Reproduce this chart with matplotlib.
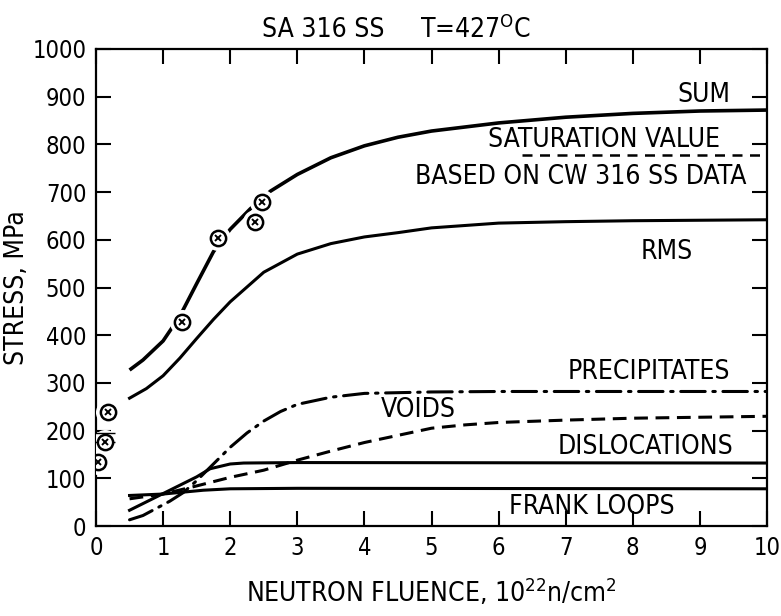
import matplotlib
matplotlib.use('Agg')
import matplotlib.pyplot as plt

plt.rcParams['font.family'] = ['DejaVu Sans']
plt.rcParams['font.stretch'] = 'condensed'
plt.rcParams['mathtext.fontset'] = 'custom'
plt.rcParams['mathtext.rm'] = 'DejaVu Sans:stretch=condensed'

fontsize = 19
fontsize_ticks = 17

# curves (fluence in 1e22 n/cm2, stress in MPa)
sum_x = [0.5, 0.7, 1.0, 1.25, 1.5, 1.75, 2.0, 2.3, 2.6, 3.0, 3.5, 4.0, 4.5, 5.0, 6.0, 7.0, 8.0, 9.0, 10.0]
sum_y = [327, 348, 388, 440, 508, 575, 622, 665, 702, 737, 772, 797, 815, 828, 845, 857, 865, 870, 872]

rms_x = [0.5, 0.75, 1.0, 1.25, 1.5, 1.75, 2.0, 2.5, 3.0, 3.5, 4.0, 4.5, 5.0, 6.0, 7.0, 8.0, 9.0, 10.0]
rms_y = [268, 288, 315, 352, 393, 433, 470, 532, 570, 592, 606, 615, 625, 635, 638, 640, 641, 642]

sat_x = [6.35, 10.0]
sat_y = [778, 778]

precip_x = [0.5, 0.7, 0.9, 1.1, 1.3, 1.5, 1.7, 2.0, 2.25, 2.5, 2.75, 3.0, 3.5, 4.0, 5.0, 6.0, 10.0]
precip_y = [13, 22, 37, 52, 70, 95, 123, 165, 195, 220, 240, 255, 270, 278, 281, 282, 282]

voids_x = [0.5, 1.0, 1.5, 2.0, 2.5, 3.0, 3.5, 4.0, 4.5, 5.0, 5.5, 6.0, 7.0, 8.0, 9.0, 10.0]
voids_y = [57, 67, 84, 102, 117, 138, 157, 175, 190, 205, 212, 217, 222, 226, 228, 230]

disl_x = [0.5, 1.0, 1.5, 1.7, 2.0, 2.2, 3.0, 10.0]
disl_y = [33, 68, 103, 120, 130, 132, 133, 132]

frank_x = [0.5, 1.0, 1.3, 1.6, 2.0, 3.0, 10.0]
frank_y = [64, 67, 71, 75, 78, 79, 78]

# measured points
pts_x = [0.03, 0.13, 0.18, 1.28, 1.82, 2.37, 2.47]
pts_y = [134, 176, 239, 428, 604, 637, 680]

labels = ['SUM', 'SATURATION VALUE', 'BASED ON CW 316 SS DATA', 'RMS',
          'PRECIPITATES', 'VOIDS', 'DISLOCATIONS', 'FRANK LOOPS']
label_x = [9.45, 9.3, 9.7, 8.9, 9.45, 4.8, 9.5, 8.63]
label_y = [903, 809, 732, 575, 323, 243, 166, 40]

fig = plt.figure(figsize=(7.81, 6.16), dpi=100)
ax = fig.add_axes([96 / 781, 90 / 616, 671 / 781, 477 / 616])

lw = 2.2
ax.plot(sum_x, sum_y, color='k', lw=2.6, solid_capstyle='butt')
ax.plot(rms_x, rms_y, color='k', lw=lw)
ax.plot(sat_x, sat_y, color='k', lw=1.8, linestyle=(0, (4, 3)))
ax.plot(precip_x, precip_y, color='k', lw=lw, linestyle=(0, (8, 2.5, 0.8, 2.5)),
        dash_capstyle='round')
ax.plot(voids_x, voids_y, color='k', lw=lw, linestyle=(0, (4.5, 2.5)))
ax.plot(disl_x, disl_y, color='k', lw=lw)
ax.plot(frank_x, frank_y, color='k', lw=lw)

# data points: white halo cuts the curve, then circle with cross
ax.plot(pts_x, pts_y, 'o', ms=17, color='white', zorder=4)
ax.errorbar(pts_x[1], pts_y[1], yerr=[[0], [20]], color='k', lw=1.2, capsize=7, zorder=5)
ax.plot(pts_x, pts_y, 'o', ms=11, mfc='white', mec='k', mew=1.8, zorder=6)
ax.plot(pts_x, pts_y, 'x', ms=5, color='k', mew=1.4, zorder=7)

for txt, tx, ty in zip(labels, label_x, label_y):
    ha = 'center' if txt == 'VOIDS' else 'right'
    ax.text(tx, ty, txt, fontsize=fontsize, ha=ha, va='center')

ax.text(0.338, 1.04, 'SA 316 SS', transform=ax.transAxes,
        fontsize=fontsize, ha='center', va='center')
ax.text(0.566, 1.04, 'T=427$^{\\mathrm{O}}$C', transform=ax.transAxes,
        fontsize=fontsize, ha='center', va='center')

ax.set_xlim(0, 10)
ax.set_ylim(0, 1000)
ax.set_xticks(range(0, 11))
ax.set_yticks(range(0, 1001, 100))
ax.tick_params(direction='in', which='both', top=True, right=True, length=11,
               width=1.5, labelsize=fontsize_ticks, pad=7)
for s in ax.spines.values():
    s.set_linewidth(1.6)

ax.set_xlabel('NEUTRON FLUENCE, 10$^{22}$n/cm$^{2}$', fontsize=fontsize, labelpad=12)
ax.set_ylabel('STRESS, MPa', fontsize=fontsize)
ax.yaxis.set_label_coords(-0.098, 0.5)

fig.savefig('out.png', dpi=100)
